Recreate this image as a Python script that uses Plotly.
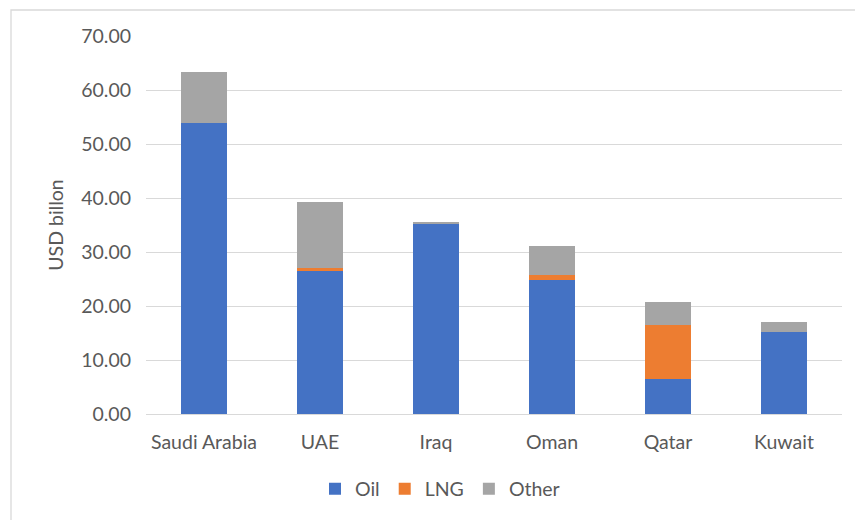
import plotly.graph_objects as go

countries = ["Saudi Arabia", "UAE", "Iraq", "Oman", "Qatar", "Kuwait"]
oil = [53.8, 26.5, 35.3, 24.8, 6.4, 15.1]
lng = [0.0, 0.5, 0.0, 0.9, 10.1, 0.0]
other = [9.6, 12.2, 0.1, 5.5, 4.3, 1.9]
tick_vals = [0, 10, 20, 30, 40, 50, 60, 70]
tick_text = ["0.00", "10.00", "20.00", "30.00", "40.00", "50.00", "60.00", "70.00"]

W, H = 855, 520
L, R, T, B = 146, 842, 36, 414

font_family = "Lato, 'Open Sans', sans-serif"
txt_color = "#595959"
fs = 19.5

fig = go.Figure()
for name, vals, col in [("Oil", oil, "#4472C4"), ("LNG", lng, "#ED7D31"), ("Other", other, "#A5A5A5")]:
    fig.add_trace(go.Bar(name=name, x=countries, y=vals, marker=dict(color=col, line=dict(width=0)), width=0.4))

def px_x(p):
    return (p - L) / (R - L)

def px_y(p):
    return (B - p) / (B - T)

fig.update_layout(
    width=W, height=H,
    barmode="stack",
    plot_bgcolor="white", paper_bgcolor="white",
    margin=dict(l=L, r=W - R, t=T, b=H - B),
    font=dict(family=font_family, size=fs, color=txt_color),
    showlegend=True,
    legend=dict(orientation="h", x=px_x(440), xanchor="center", y=px_y(489), yanchor="middle",
                font=dict(size=fs, color=txt_color), traceorder="normal", itemwidth=30),
    yaxis=dict(range=[0, 70], tickvals=tick_vals, ticktext=tick_text, showgrid=True,
               gridcolor="#D9D9D9", gridwidth=1, zeroline=False, showline=False,
               ticklabelstandoff=14, tickfont=dict(size=fs),
               title=dict(text="USD billon", font=dict(size=fs, color=txt_color), standoff=12)),
    xaxis=dict(showline=True, linecolor="#D9D9D9", linewidth=1, showgrid=False,
               ticks="", ticklabelstandoff=11, tickfont=dict(size=fs)),
    shapes=[dict(type="rect", xref="paper", yref="paper",
                 x0=px_x(11), x1=px_x(900), y0=px_y(560), y1=px_y(10),
                 line=dict(color="#D9D9D9", width=1.3), fillcolor="rgba(0,0,0,0)", layer="below")],
)

fig.write_html("out.html")
